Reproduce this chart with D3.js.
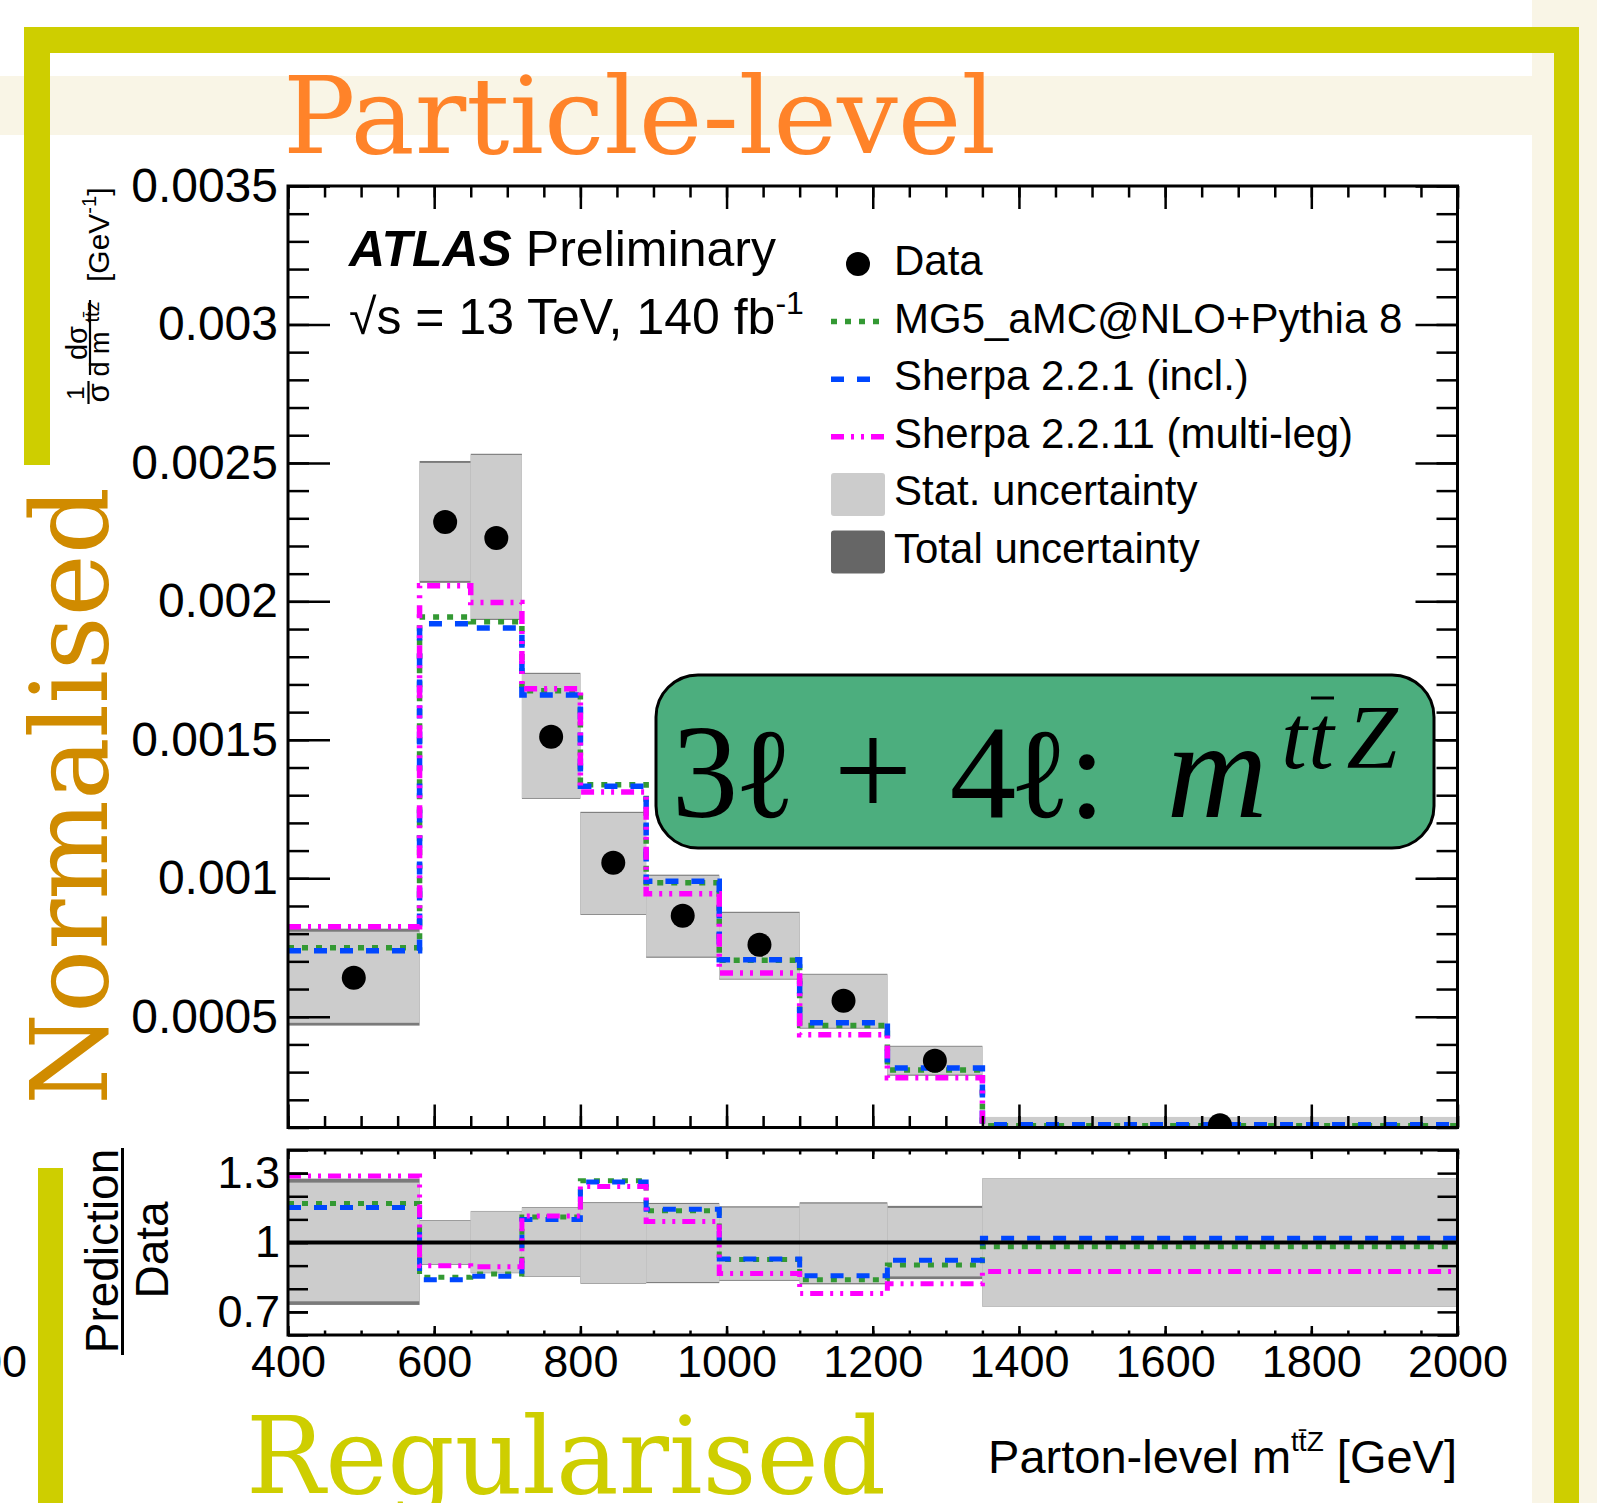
<!DOCTYPE html>
<html>
<head>
<meta charset="utf-8">
<script src="https://cdn.jsdelivr.net/npm/d3@7"></script>
<style>
  body { margin: 0; background: #fff; }
  svg text { font-family: "Liberation Sans", Arial, Helvetica, sans-serif; }
</style>
</head>
<body>
<div id="chart"></div>
<script>
// bins of the parton-level m(ttZ) spectrum [GeV]
const binEdges = [400, 580, 650, 720, 800, 890, 990, 1100, 1220, 1350, 2000]

// normalised cross-section values, one per bin
const dataVals      = [0.000641, 0.002287, 0.002229, 0.001511, 0.001056, 0.000865, 0.000760, 0.000558, 0.000341, 0.000108]
const mg5Vals       = [0.000749, 0.001944, 0.001926, 0.001677, 0.001338, 0.000984, 0.000704, 0.000468, 0.000308, 0.000106]
const sherpa221Vals = [0.000738, 0.001919, 0.001904, 0.001662, 0.001332, 0.000989, 0.000706, 0.000478, 0.000315, 0.000110]
const sherpa2211Vals= [0.000825, 0.002056, 0.001996, 0.001684, 0.001312, 0.000944, 0.000658, 0.000435, 0.000280, 0.0000945]

// uncertainty bands (absolute up / down edges)
const statUp = [0.000807, 0.002500, 0.002529, 0.001738, 0.001236, 0.001009, 0.000875, 0.000652, 0.000392, 0.000138]
const statDn = [0.000478, 0.002074, 0.001937, 0.001290, 0.000871, 0.000717, 0.000637, 0.000460, 0.000291, 0.000078]
const totUp  = [0.000818, 0.002507, 0.002533, 0.001742, 0.001240, 0.001013, 0.000879, 0.000655, 0.000395, 0.000138]
const totDn  = [0.000468, 0.002067, 0.001933, 0.001287, 0.000868, 0.000713, 0.000634, 0.000457, 0.000287, 0.000078]

const xTickVals = [400, 600, 800, 1000, 1200, 1400, 1600, 1800, 2000]
const xTickLabels = ["400", "600", "800", "1000", "1200", "1400", "1600", "1800", "2000"]
const yMainTickVals = [0.0005, 0.001, 0.0015, 0.002, 0.0025, 0.003, 0.0035]
const yMainTickLabels = ["0.0005", "0.001", "0.0015", "0.002", "0.0025", "0.003", "0.0035"]
const yRatioTickVals = [0.7, 1, 1.3]
const yRatioTickLabels = ["0.7", "1", "1.3"]

const legendLabels = ["Data", "MG5_aMC@NLO+Pythia 8", "Sherpa 2.2.1 (incl.)",
  "Sherpa 2.2.11 (multi-leg)", "Stat. uncertainty", "Total uncertainty"]

const width = 1597
const height = 1503
const frameCol = "#cece00"
const beige = "#f9f5e6"

const series = [
  { vals: mg5Vals, color: "#339933", dash: "6 8" },
  { vals: sherpa221Vals, color: "#0047ff", dash: "13 13" },
  { vals: sherpa2211Vals, color: "#ff00ff", dash: "13 7 3 7 3 7" }
]

const svg = d3.select("#chart").append("svg")
  .attr("width", width)
  .attr("height", height)

svg.append("rect").attr("width", width).attr("height", height).attr("fill", "#fff")

// ---- slide decoration behind the plot
svg.append("rect").attr("x", 0).attr("y", 76).attr("width", 1532).attr("height", 59).attr("fill", beige)
svg.append("rect").attr("x", 1532).attr("y", 0).attr("width", width - 1532).attr("height", height).attr("fill", beige)
svg.append("rect").attr("x", 24).attr("y", 27).attr("width", 1555).attr("height", 26).attr("fill", frameCol)
svg.append("rect").attr("x", 24).attr("y", 27).attr("width", 26).attr("height", 438).attr("fill", frameCol)
svg.append("rect").attr("x", 1554).attr("y", 27).attr("width", 25).attr("height", height - 27).attr("fill", frameCol)
svg.append("rect").attr("x", 38).attr("y", 1168).attr("width", 25).attr("height", height - 1168).attr("fill", frameCol)

svg.append("text").attr("x", 283).attr("y", 153)
  .style("font-family", "'DejaVu Serif', serif").attr("font-size", 106)
  .attr("textLength", 713).attr("lengthAdjust", "spacingAndGlyphs")
  .attr("fill", "#ff8329").text("Particle-level")

svg.append("text").attr("transform", "translate(107,1105) rotate(-90)")
  .style("font-family", "'DejaVu Serif', serif").attr("font-size", 106)
  .attr("textLength", 618).attr("lengthAdjust", "spacingAndGlyphs")
  .attr("fill", "#d08b00").text("Normalised")

svg.append("text").attr("x", 246).attr("y", 1493)
  .style("font-family", "'DejaVu Serif', serif").attr("font-size", 106)
  .attr("textLength", 640).attr("lengthAdjust", "spacingAndGlyphs")
  .attr("fill", frameCol).text("Regularised")

// cut-off label of the neighbouring plot
svg.append("text").attr("x", 27).attr("y", 1377).attr("text-anchor", "end")
  .attr("font-size", 45).text("2000")

// ---- scales
const x = d3.scaleLinear().domain([400, 2000]).range([288, 1457.5])
const yMain = d3.scaleLinear().domain([0.0001, 0.0035]).range([1127.5, 186])
const yRatio = d3.scaleLinear().domain([0.6, 1.4]).range([1335, 1150])

const defs = svg.append("defs")
defs.append("clipPath").attr("id", "clipMain").append("rect")
  .attr("x", 288).attr("y", 186).attr("width", 1169.5).attr("height", 941.5)
defs.append("clipPath").attr("id", "clipRatio").append("rect")
  .attr("x", 288).attr("y", 1150).attr("width", 1169.5).attr("height", 185)

const bins = dataVals.map((d, i) => ({ i: i, lo: binEdges[i], hi: binEdges[i + 1], v: d }))

function stepPath(yScale, vals) {
  const pts = binEdges.map((e, i) => [e, vals[Math.min(i, vals.length - 1)]])
  return d3.line().x(d => x(d[0])).y(d => yScale(d[1])).curve(d3.curveStepAfter)(pts)
}

// ---- main panel
const main = svg.append("g").attr("clip-path", "url(#clipMain)")

main.selectAll("rect.tot").data(bins).join("rect")
  .attr("class", "tot")
  .attr("x", d => x(d.lo)).attr("width", d => x(d.hi) - x(d.lo))
  .attr("y", d => yMain(totUp[d.i])).attr("height", d => yMain(totDn[d.i]) - yMain(totUp[d.i]))
  .attr("fill", "#7a7a7a")
main.selectAll("rect.stat").data(bins).join("rect")
  .attr("class", "stat")
  .attr("x", d => x(d.lo)).attr("width", d => x(d.hi) - x(d.lo))
  .attr("y", d => yMain(statUp[d.i])).attr("height", d => yMain(statDn[d.i]) - yMain(statUp[d.i]))
  .attr("fill", "#cccccc")

series.forEach(s => {
  main.append("path").attr("d", stepPath(yMain, s.vals))
    .attr("fill", "none").attr("stroke", s.color).attr("stroke-width", 5.5)
    .attr("stroke-dasharray", s.dash)
})

main.selectAll("circle").data(bins).join("circle")
  .attr("cx", d => x((d.lo + d.hi) / 2)).attr("cy", d => yMain(d.v)).attr("r", 12)
  .attr("fill", "#000")

// ---- ratio panel
const ratio = svg.append("g").attr("clip-path", "url(#clipRatio)")

ratio.selectAll("rect.tot").data(bins).join("rect")
  .attr("class", "tot")
  .attr("x", d => x(d.lo)).attr("width", d => x(d.hi) - x(d.lo))
  .attr("y", d => yRatio(totUp[d.i] / d.v)).attr("height", d => yRatio(totDn[d.i] / d.v) - yRatio(totUp[d.i] / d.v))
  .attr("fill", "#7a7a7a")
ratio.selectAll("rect.stat").data(bins).join("rect")
  .attr("class", "stat")
  .attr("x", d => x(d.lo)).attr("width", d => x(d.hi) - x(d.lo))
  .attr("y", d => yRatio(statUp[d.i] / d.v)).attr("height", d => yRatio(statDn[d.i] / d.v) - yRatio(statUp[d.i] / d.v))
  .attr("fill", "#cccccc")

series.forEach(s => {
  ratio.append("path").attr("d", stepPath(yRatio, s.vals.map((v, i) => v / dataVals[i])))
    .attr("fill", "none").attr("stroke", s.color).attr("stroke-width", 5)
    .attr("stroke-dasharray", s.dash)
})

ratio.append("line").attr("x1", x(400)).attr("x2", x(2000))
  .attr("y1", yRatio(1)).attr("y2", yRatio(1))
  .attr("stroke", "#000").attr("stroke-width", 4)

// ---- axes
const xMinor = d3.range(400, 2001, 50)
const yMainMinor = d3.range(1, 36).map(i => i * 0.0001)
const yRatioMinor = d3.range(6, 15).map(i => i / 10)

function tidy(g, size) {
  g.select(".domain").remove()
  g.attr("font-size", size || 10).attr("font-family", "'Liberation Sans', Arial, sans-serif")
  g.selectAll(".tick line").attr("stroke", "#000").attr("stroke-width", 2.5)
  g.selectAll(".tick text").attr("fill", "#000")
}

function addAxis(axis, tx, ty, size) {
  svg.append("g").attr("transform", `translate(${tx},${ty})`).call(axis).call(g => tidy(g, size))
}

// main
addAxis(d3.axisLeft(yMain).tickValues(yMainMinor).tickSize(-21).tickFormat(""), 288, 0)
addAxis(d3.axisLeft(yMain).tickValues(yMainTickVals).tickSize(-42).tickPadding(10)
  .tickFormat((d, i) => yMainTickLabels[i]), 288, 0, 48)
addAxis(d3.axisRight(yMain).tickValues(yMainMinor).tickSize(-21).tickFormat(""), 1457.5, 0)
addAxis(d3.axisRight(yMain).tickValues(yMainTickVals).tickSize(-42).tickFormat(""), 1457.5, 0)
addAxis(d3.axisBottom(x).tickValues(xMinor).tickSize(-11.5).tickFormat(""), 0, 1127.5)
addAxis(d3.axisBottom(x).tickValues(xTickVals).tickSize(-23).tickFormat(""), 0, 1127.5)
addAxis(d3.axisTop(x).tickValues(xMinor).tickSize(-11.5).tickFormat(""), 0, 186)
addAxis(d3.axisTop(x).tickValues(xTickVals).tickSize(-23).tickFormat(""), 0, 186)

// ratio
addAxis(d3.axisLeft(yRatio).tickValues(yRatioMinor).tickSize(-20).tickFormat(""), 288, 0)
addAxis(d3.axisLeft(yRatio).tickValues(yRatioTickVals).tickSize(-20).tickPadding(8)
  .tickFormat((d, i) => yRatioTickLabels[i]), 288, 0, 45)
addAxis(d3.axisRight(yRatio).tickValues(yRatioMinor).tickSize(-20).tickFormat(""), 1457.5, 0)
addAxis(d3.axisBottom(x).tickValues(xMinor).tickSize(-4.5).tickFormat(""), 0, 1335)
addAxis(d3.axisBottom(x).tickValues(xTickVals).tickSize(-9).tickPadding(10)
  .tickFormat((d, i) => xTickLabels[i]), 0, 1335, 45)
addAxis(d3.axisTop(x).tickValues(xMinor).tickSize(-4.5).tickFormat(""), 0, 1150)
addAxis(d3.axisTop(x).tickValues(xTickVals).tickSize(-9).tickFormat(""), 0, 1150)

svg.append("rect").attr("x", 288).attr("y", 186).attr("width", 1169.5).attr("height", 941.5)
  .attr("fill", "none").attr("stroke", "#000").attr("stroke-width", 3)
svg.append("rect").attr("x", 288).attr("y", 1150).attr("width", 1169.5).attr("height", 185)
  .attr("fill", "none").attr("stroke", "#000").attr("stroke-width", 3)

// ---- axis titles
svg.append("text").attr("transform", "translate(84,393) rotate(-90)")
  .attr("text-anchor", "middle").attr("font-size", 24).text("1")
svg.append("text").attr("transform", "translate(109,393) rotate(-90)")
  .attr("text-anchor", "middle").attr("font-size", 31).text("σ")
svg.append("line").attr("x1", 88.5).attr("x2", 88.5).attr("y1", 381).attr("y2", 404)
  .attr("stroke", "#000").attr("stroke-width", 2.2)
svg.append("text").attr("transform", "translate(87,343) rotate(-90)")
  .attr("text-anchor", "middle").attr("font-size", 29).text("dσ")
svg.append("line").attr("x1", 90).attr("x2", 90).attr("y1", 300).attr("y2", 375)
  .attr("stroke", "#000").attr("stroke-width", 2.2)
svg.append("text").attr("transform", "translate(109,354) rotate(-90)")
  .attr("text-anchor", "middle").attr("font-size", 27).text("d m")
svg.append("text").attr("transform", "translate(99,312) rotate(-90)")
  .attr("text-anchor", "middle").attr("font-size", 20).text("tt\u0304z")
const gevTitle = svg.append("text").attr("transform", "translate(109,282) rotate(-90)")
  .attr("font-size", 30)
gevTitle.append("tspan").text("[GeV")
gevTitle.append("tspan").attr("dy", -13).attr("font-size", 20).text("-1")
gevTitle.append("tspan").attr("dy", 13).text("]")

svg.append("text").attr("transform", "translate(118,1251) rotate(-90)")
  .attr("text-anchor", "middle").attr("font-size", 46).text("Prediction")
svg.append("line").attr("x1", 122.5).attr("x2", 122.5).attr("y1", 1148).attr("y2", 1355)
  .attr("stroke", "#000").attr("stroke-width", 3)
svg.append("text").attr("transform", "translate(168,1250) rotate(-90)")
  .attr("text-anchor", "middle").attr("font-size", 46).text("Data")

const xTitle = svg.append("text").attr("x", 1457).attr("y", 1473)
  .attr("text-anchor", "end").attr("font-size", 47)
xTitle.append("tspan").text("Parton-level m")
xTitle.append("tspan").attr("dy", -22).attr("font-size", 28).text("tt\u0304Z")
xTitle.append("tspan").attr("dy", 22).text(" [GeV]")

// ---- ATLAS label
const atlas = svg.append("text").attr("x", 349).attr("y", 266).attr("font-size", 50)
atlas.append("tspan").attr("font-weight", "bold").attr("font-style", "italic").text("ATLAS")
atlas.append("tspan").text(" Preliminary")
const lumi = svg.append("text").attr("x", 349).attr("y", 334).attr("font-size", 50)
lumi.append("tspan").text("√s = 13 TeV, 140 fb")
lumi.append("tspan").attr("dy", -20).attr("font-size", 32).text("-1")

// ---- legend
const legend = svg.append("g")
legendLabels.forEach((lab, i) => {
  const base = 275 + i * 57.6
  const cy = base - 11
  if (i === 0) {
    legend.append("circle").attr("cx", 858).attr("cy", cy).attr("r", 12).attr("fill", "#000")
  } else if (i <= 3) {
    const s = series[i - 1]
    legend.append("line").attr("x1", 831).attr("x2", i === 2 ? 872 : 884)
      .attr("y1", cy).attr("y2", cy)
      .attr("stroke", s.color).attr("stroke-width", 5.5).attr("stroke-dasharray", s.dash)
  } else {
    legend.append("rect").attr("x", 831).attr("y", cy - 21.5).attr("width", 54).attr("height", 43)
      .attr("rx", 3).attr("fill", i === 4 ? "#cccccc" : "#666666")
  }
  legend.append("text").attr("x", 894).attr("y", base).attr("font-size", 42).text(lab)
})

// ---- channel box
svg.append("rect").attr("x", 656).attr("y", 675).attr("width", 778).attr("height", 173)
  .attr("rx", 42).attr("fill", "#4cae7e").attr("stroke", "#000").attr("stroke-width", 3)

const mathFont = "'Liberation Serif', 'DejaVu Serif', serif"
const glyphs = [
  { t: "3", cx: 705, y: 817, s: 133, it: false },
  { t: "ℓ", cx: 765, y: 817, s: 128, it: false },
  { t: "+", cx: 873, y: 817, s: 140, it: false },
  { t: "4", cx: 983, y: 817, s: 133, it: false },
  { t: "ℓ", cx: 1040, y: 817, s: 128, it: false },
  { t: ":", cx: 1087, y: 817, s: 133, it: false },
  { t: "m", cx: 1217, y: 817, s: 140, it: true },
  { t: "t", cx: 1294, y: 768, s: 92, it: true },
  { t: "t", cx: 1321, y: 768, s: 92, it: true },
  { t: "Z", cx: 1372, y: 768, s: 92, it: true }
]
glyphs.forEach(gl => {
  svg.append("text").attr("x", gl.cx).attr("y", gl.y).attr("text-anchor", "middle")
    .style("font-family", mathFont).attr("font-size", gl.s)
    .attr("font-style", gl.it ? "italic" : "normal").attr("fill", "#000").text(gl.t)
})
svg.append("line").attr("x1", 1311).attr("x2", 1334).attr("y1", 698).attr("y2", 698)
  .attr("stroke", "#000").attr("stroke-width", 3)
</script>
</body>
</html>
